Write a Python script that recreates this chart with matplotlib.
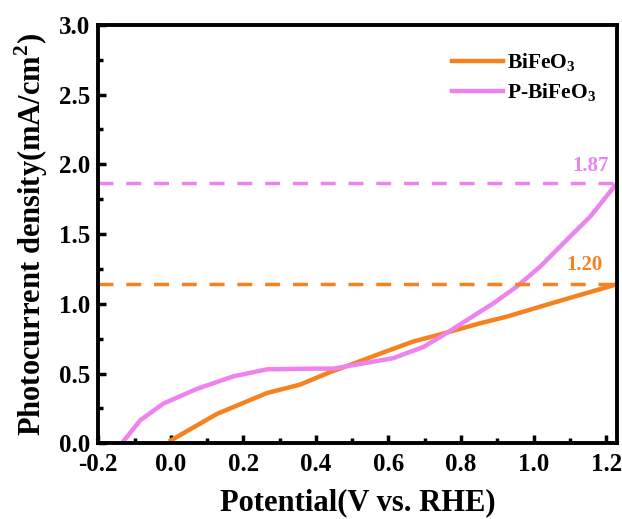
import matplotlib
matplotlib.use('Agg')
import matplotlib.pyplot as plt
from matplotlib.ticker import MultipleLocator

plt.rcParams['font.family'] = ['Liberation Serif', 'DejaVu Serif']
plt.rcParams['font.weight'] = 'bold'
plt.rcParams['mathtext.fontset'] = 'custom'
plt.rcParams['mathtext.rm'] = 'Liberation Serif:bold'
plt.rcParams['mathtext.bf'] = 'Liberation Serif:bold'
plt.rcParams['axes.unicode_minus'] = False

# data
bfo_v = [0.0, 0.06, 0.127, 0.182, 0.265, 0.356, 0.439, 0.503, 0.595, 0.669, 0.742, 0.852, 0.925, 1.063, 1.15, 1.23]
bfo_j = [0.02, 0.11, 0.21, 0.27, 0.36, 0.42, 0.51, 0.57, 0.66, 0.73, 0.78, 0.86, 0.907, 1.014, 1.08, 1.14]
pbfo_v = [-0.135, -0.084, -0.02, 0.072, 0.173, 0.265, 0.393, 0.448, 0.503, 0.613, 0.696, 0.751, 0.816, 0.889, 0.953, 1.018, 1.091, 1.156, 1.23]
pbfo_j = [0.0, 0.165, 0.285, 0.39, 0.48, 0.53, 0.535, 0.535, 0.56, 0.61, 0.69, 0.775, 0.883, 1.003, 1.122, 1.266, 1.457, 1.625, 1.865]
labels = ['BiFeO$_3$', 'P-BiFeO$_3$']
end_text = ['1.20', '1.87']
colors = ['#F5821F', '#EE82EE']

fig = plt.figure(figsize=(6.22, 5.19), dpi=100)
ax = fig.add_axes([0.158, 0.146, 0.834, 0.806])

ax.plot(bfo_v, bfo_j, color=colors[0], lw=3.2, label=labels[0])
ax.plot(pbfo_v, pbfo_j, color=colors[1], lw=3.2, label=labels[1])

# dashed guides at the end values
ax.axhline(bfo_j[-1], color=colors[0], lw=2.5, dashes=(4.3, 3.7))
ax.axhline(pbfo_j[-1], color=colors[1], lw=2.5, dashes=(4.3, 3.7))
ax.text(1.191, bfo_j[-1] + 0.07, end_text[0], color=colors[0], fontsize=15,
        fontweight='bold', ha='right', va='bottom')
ax.text(1.207, pbfo_j[-1] + 0.05, end_text[1], color=colors[1], fontsize=15,
        fontweight='bold', ha='right', va='bottom')

ax.set_xlim(-0.2, 1.23)
ax.set_ylim(0, 3.0)
ax.xaxis.set_major_locator(MultipleLocator(0.2))
ax.xaxis.set_minor_locator(MultipleLocator(0.1))
ax.yaxis.set_major_locator(MultipleLocator(0.5))
ax.yaxis.set_minor_locator(MultipleLocator(0.25))
ax.tick_params(which='both', direction='in', width=2.5, labelsize=18, top=False, right=False)
ax.tick_params(which='major', length=6)
ax.tick_params(which='minor', length=3.5)
ax.tick_params(axis='x', pad=7)
ax.tick_params(axis='y', pad=6)
for s in ax.spines.values():
    s.set_linewidth(2.8)
for t in ax.get_xticklabels() + ax.get_yticklabels():
    t.set_fontweight('bold')

ax.set_xlabel('Potential(V vs. RHE)', fontsize=22, fontweight='bold', labelpad=9)
ax.set_ylabel('Photocurrent density(mA/cm$^2$)', fontsize=22, fontweight='bold', labelpad=6)

leg = ax.legend(loc='center left', frameon=False, fontsize=15.5, handlelength=2.37,
                handletextpad=0.2, borderpad=0, borderaxespad=0,
                bbox_to_anchor=(0.682, 0.873), labelspacing=0.35)

fig.savefig('out.png', dpi=100)
